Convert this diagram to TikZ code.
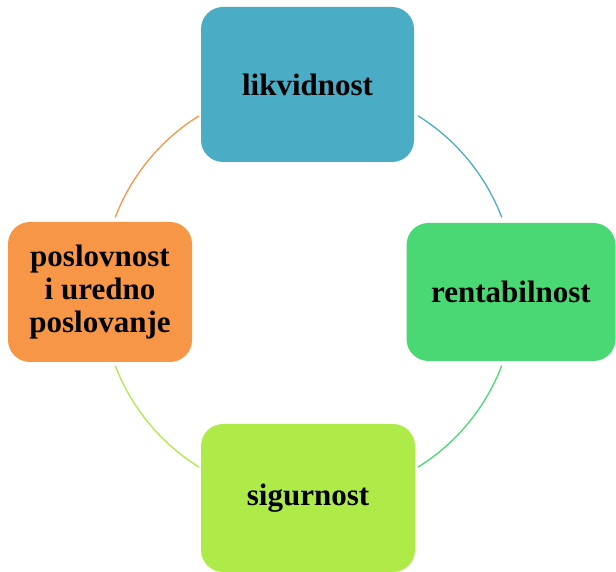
\documentclass[tikz,border=0pt]{standalone}
\usepackage{fontspec}
\setmainfont{Liberation Serif}
\definecolor{likvcol}{HTML}{4BACC6}
\definecolor{rentcol}{HTML}{49D874}
\definecolor{sigcol}{HTML}{AEEA48}
\definecolor{poslcol}{HTML}{F79646}
\begin{document}
\begin{tikzpicture}[x=1pt,y=1pt,
  box/.style={rounded corners=22pt,inner sep=0pt,align=center,
    font=\fontsize{31}{33}\selectfont\bfseries},
  link/.style={line width=1.3pt}]
\useasboundingbox (0,0) rectangle (616,572);
\node[box,fill=likvcol,minimum width=213,minimum height=155] (likv) at (307.5,487.5) {likvidnost};
\node[box,fill=rentcol,minimum width=209,minimum height=138] (rent) at (511,280) {rentabilnost};
\node[box,fill=sigcol,minimum width=214,minimum height=148] (sig) at (308,74) {sigurnost};
\node[box,fill=poslcol,minimum width=184,minimum height=140] (posl) at (100,280) {poslovnost\\i uredno\\poslovanje};
\coordinate (mid) at (308.5,280.5);
% arcs of the cycle
\draw[link,likvcol] (mid) ++(58:207) arc[start angle=58,end angle=21,radius=207];
\draw[link,rentcol] (mid) ++(-21:207) arc[start angle=-21,end angle=-58,radius=207];
\draw[link,sigcol] (mid) ++(238:207) arc[start angle=238,end angle=201,radius=207];
\draw[link,poslcol] (mid) ++(159:207) arc[start angle=159,end angle=122,radius=207];
\end{tikzpicture}
\end{document}
